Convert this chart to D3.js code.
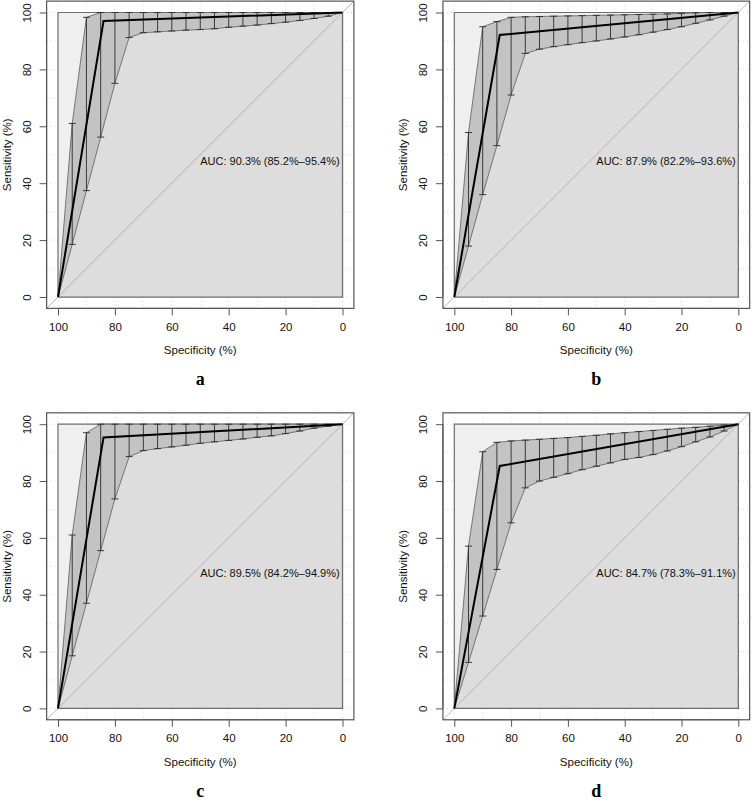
<!DOCTYPE html>
<html><head><meta charset="utf-8">
<script src="https://cdn.jsdelivr.net/npm/d3@7"></script>
<style>body{margin:0;background:#fff}svg{display:block}</style>
</head><body><svg id="c" width="752" height="801"></svg>
<script>
const ciSpec = [100,95,90,85,80,75,70,65,60,55,50,45,40,35,30,25,20,15,10,5,0];
const xTicks = [100,80,60,40,20,0];
const yTicks = [0,20,40,60,80,100];
const gridVals = [0,10,20,30,40,50,60,70,80,90,100];
const panelLabels = ["a","b","c","d"];
const aucLabels = ["AUC: 90.3% (85.2%\u201395.4%)","AUC: 87.9% (82.2%\u201393.6%)","AUC: 89.5% (84.2%\u201394.9%)","AUC: 84.7% (78.3%\u201391.1%)"];

const rocSpecA = [100,84,0], rocSensA = [0,97.0,100];
const rocSpecB = [100,84,0], rocSensB = [0,92.1,100];
const rocSpecC = [100,84,0], rocSensC = [0,95.3,100];
const rocSpecD = [100,84,0], rocSensD = [0,85.3,100];

const upperA = [0,61,98.3,100,100,100,100,100,100,100,100,100,100,100,100,100,100,100,100,100,100];
const lowerA = [0,18.5,37.4,56.2,75.1,91.2,92.9,93.2,93.5,93.8,94.0,94.3,94.8,95.2,95.6,96.1,96.6,97.2,97.9,98.7,100];
const upperB = [0,57.8,95.0,96.8,98.3,98.5,98.6,98.7,98.8,98.9,99.0,99.1,99.2,99.3,99.4,99.5,99.7,99.9,100,100,100];
const lowerB = [0,17.9,36.0,53.2,71.0,85.6,87.1,88.0,88.7,89.4,90.0,90.7,91.4,92.2,93.1,94.0,95.0,96.2,97.4,98.7,100];
const upperC = [0,61,97.0,100,100,100,100,100,100,100,100,100,100,100,100,100,100,100,100,100,100];
const lowerC = [0,18.5,37.0,55.5,73.7,88.6,90.7,91.4,92.0,92.6,93.3,93.8,94.3,94.8,95.4,95.9,96.7,97.6,98.6,99.3,100];
const upperD = [0,57.1,90.3,93.6,94.1,94.4,94.7,95.0,95.3,95.7,96.1,96.6,97.0,97.4,97.8,98.2,98.6,98.9,99.3,99.7,100];
const lowerD = [0,16.2,32.5,48.9,65.3,77.6,80.0,81.3,82.6,84.0,85.2,86.4,87.6,88.3,89.3,90.6,92.1,93.8,95.5,97.6,100];

const panels = [
  {spec:rocSpecA, sens:rocSensA, up:upperA, lo:lowerA, x0:58, x1:342.5, y100:12.5, y0:297},
  {spec:rocSpecB, sens:rocSensB, up:upperB, lo:lowerB, x0:454.3, x1:738.3, y100:12.5, y0:297},
  {spec:rocSpecC, sens:rocSensC, up:upperC, lo:lowerC, x0:58, x1:342.5, y100:424.2, y0:708.4},
  {spec:rocSpecD, sens:rocSensD, up:upperD, lo:lowerD, x0:454.3, x1:738.3, y100:424.2, y0:708.4}
];

const svg = d3.select("#c");
const font = "'Liberation Sans', Arial, sans-serif";

panels.forEach((p, i) => {
  const x = d3.scaleLinear().domain([100,0]).range([p.x0, p.x1]);
  const y = d3.scaleLinear().domain([0,100]).range([p.y0, p.y100]);
  const ex = (p.x1 - p.x0) * 0.04, ey = (p.y0 - p.y100) * 0.04;
  const bx0 = p.x0 - ex, bx1 = p.x1 + ex, by0 = p.y100 - ey, by1 = p.y0 + ey;
  const g = svg.append("g");
  const clipId = "clip" + i;
  g.append("clipPath").attr("id", clipId).append("rect")
    .attr("x", bx0).attr("y", by0).attr("width", bx1 - bx0).attr("height", by1 - by0);

  // grid
  const grid = g.append("g").attr("stroke", "#d4d4d4").attr("stroke-width", 1).attr("stroke-dasharray", "1,3");
  gridVals.forEach(v => {
    grid.append("line").attr("x1", x(v)).attr("x2", x(v)).attr("y1", by0).attr("y2", by1);
    grid.append("line").attr("y1", y(v)).attr("y2", y(v)).attr("x1", bx0).attr("x2", bx1);
  });

  const line = d3.line().x(d => x(d[0])).y(d => y(d[1]));

  // max auc polygon
  g.append("path").attr("d", line([[100,0],[100,100],[0,100],[0,0]]) + "Z")
    .attr("fill", "#efefef").attr("stroke", "#6e6e6e").attr("stroke-width", 1.2);

  // auc polygon
  const roc = p.spec.map((s, k) => [s, p.sens[k]]);
  g.append("path").attr("d", line(roc.concat([[0,0],[100,0]])) + "Z")
    .attr("fill", "#dddddd").attr("stroke", "none");

  // square bottom/right border redraw
  g.append("path").attr("d", line([[100,0],[0,0],[0,100]]))
    .attr("fill", "none").attr("stroke", "#6e6e6e").attr("stroke-width", 1.2);

  // diagonal
  g.append("line").attr("clip-path", `url(#${clipId})`)
    .attr("x1", x(110)).attr("y1", y(-10)).attr("x2", x(-10)).attr("y2", y(110))
    .attr("stroke", "#b4b4b4").attr("stroke-width", 1);

  // CI band
  const upPts = ciSpec.map((s, k) => [s, p.up[k]]);
  const loPts = ciSpec.map((s, k) => [s, p.lo[k]]).reverse();
  g.append("path").attr("d", line(upPts.concat(loPts)) + "Z")
    .attr("fill", "#c3c3c3").attr("stroke", "#6a6a6a").attr("stroke-width", 0.9);

  // CI bars
  const bars = g.append("g").attr("stroke", "#2a2a2a").attr("stroke-width", 0.9);
  ciSpec.forEach((s, k) => {
    if (s === 100 || s === 0) return;
    const xx = x(s);
    bars.append("line").attr("x1", xx).attr("x2", xx).attr("y1", y(p.lo[k])).attr("y2", y(p.up[k]));
    bars.append("line").attr("x1", xx - 3.5).attr("x2", xx + 3.5).attr("y1", y(p.lo[k])).attr("y2", y(p.lo[k]));
    bars.append("line").attr("x1", xx - 3.5).attr("x2", xx + 3.5).attr("y1", y(p.up[k])).attr("y2", y(p.up[k]));
  });

  // ROC curve
  g.append("path").attr("d", line(roc)).attr("fill", "none").attr("stroke", "#000").attr("stroke-width", 2);

  // AUC text
  g.append("text").attr("x", x(50)).attr("y", y(50)).attr("dy", "0.95em")
    .attr("font-family", font).attr("font-size", "11px").attr("fill", "#111")
    .text(aucLabels[i]);

  // box
  g.append("rect").attr("x", bx0).attr("y", by0).attr("width", bx1 - bx0).attr("height", by1 - by0)
    .attr("fill", "none").attr("stroke", "#555").attr("stroke-width", 1.2);

  // x axis
  const xa = g.append("g").attr("transform", `translate(0,${by1})`)
    .call(d3.axisBottom(x).tickValues(xTicks).tickSize(7).tickPadding(7).tickFormat(d3.format("d")));
  xa.select(".domain").attr("stroke", "#555").attr("d", `M${x(100)},0H${x(0)}`);
  xa.selectAll(".tick line").attr("stroke", "#555");
  xa.selectAll("text").attr("font-family", font).attr("font-size", "11.5px").attr("fill", "#111");

  // y axis
  const ya = g.append("g").attr("transform", `translate(${bx0},0)`)
    .call(d3.axisLeft(y).tickValues(yTicks).tickSize(7).tickFormat(d3.format("d")));
  ya.select(".domain").attr("stroke", "#555").attr("d", `M0,${y(0)}V${y(100)}`);
  ya.selectAll(".tick line").attr("stroke", "#555");
  ya.selectAll("text").attr("font-family", font).attr("font-size", "11.5px").attr("fill", "#111")
    .attr("text-anchor", "middle").attr("dy", null).attr("x", null)
    .attr("transform", "translate(-20,0) rotate(-90)").attr("dominant-baseline", "central");

  // axis titles
  g.append("text").attr("x", (bx0 + bx1) / 2).attr("y", by1 + 42).attr("dominant-baseline", "central")
    .attr("text-anchor", "middle").attr("font-family", font).attr("font-size", "11.5px").attr("fill", "#111")
    .text("Specificity (%)");
  g.append("text").attr("transform", `translate(${bx0 - 40},${(by0 + by1) / 2}) rotate(-90)`)
    .attr("dominant-baseline", "central").attr("text-anchor", "middle")
    .attr("font-family", font).attr("font-size", "11.5px").attr("fill", "#111")
    .text("Sensitivity (%)");

  // panel letter
  g.append("text").attr("x", (bx0 + bx1) / 2).attr("y", by1 + 77)
    .attr("text-anchor", "middle").attr("font-family", "'Liberation Serif', 'Times New Roman', serif")
    .attr("font-weight", "bold").attr("font-size", "18px").attr("fill", "#000")
    .text(panelLabels[i]);
});
</script></body></html>
